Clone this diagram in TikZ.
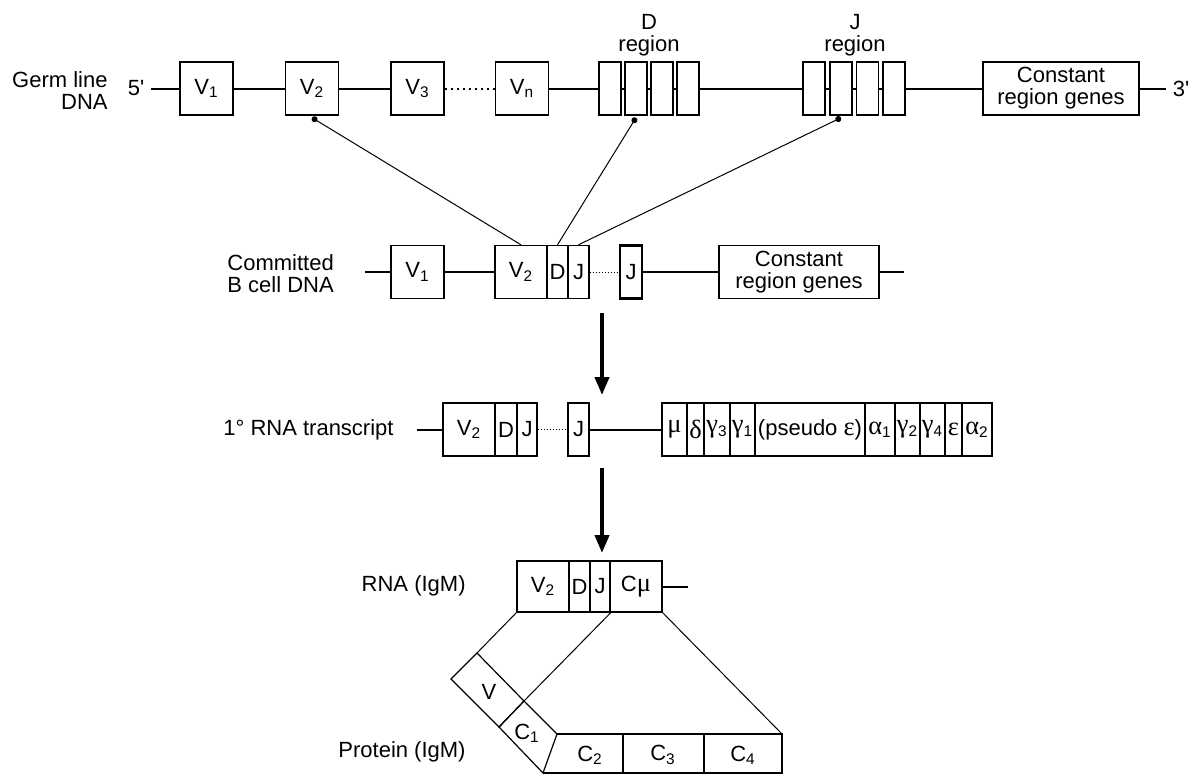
\documentclass[tikz,border=0pt]{standalone}
\usepackage{fontspec}
\setmainfont{Liberation Sans}
\newfontfamily\grkfont[Scale=1.2]{Liberation Serif}
\newcommand{\grk}[1]{{\grkfont #1}}
\usetikzlibrary{arrows.meta}

\begin{document}
\begin{tikzpicture}[x=0.5pt, y=-0.5pt,
	every node/.style={font=\fontsize{11}{11}\selectfont},
	gene/.style={draw, line width=0.7pt, inner sep=0pt, minimum height=26.5pt},
	bold gene/.style={gene, line width=1.3pt},
	backbone/.style={line width=1pt},
	link/.style={line width=0.5pt},
	step arrow/.style={-{Triangle[length=9pt, width=7pt]}, line width=2pt}]
		\useasboundingbox (0,0) rectangle (1200,783);

		% germ line DNA
		\node[anchor=east, align=right, inner sep=0pt] (glabel) at (108,91) {Germ line\\DNA};
		\node (five) at (136,88.5) {5\textquotesingle};
		\node[gene, minimum width=26.5pt] (gV1) at (206.5,88.5) {V\textsubscript{1}};
		\node[gene, minimum width=26.5pt] (gV2) at (312,88.5) {V\textsubscript{2}};
		\node[gene, minimum width=26.5pt] (gV3) at (417.5,88.5) {V\textsubscript{3}};
		\node[gene, minimum width=26.5pt] (gVn) at (522,88.5) {V\textsubscript{n}};
		\node[gene, minimum width=11pt] (gD1) at (610,88.5) {};
		\node[gene, minimum width=11pt] (gD2) at (636,88.5) {};
		\node[gene, minimum width=11pt] (gD3) at (662,88.5) {};
		\node[gene, minimum width=11pt] (gD4) at (688,88.5) {};
		\node[align=center] (dlabel) at (649,35) {D\\region};
		\node[gene, minimum width=11pt] (gJ1) at (814,88.5) {};
		\node[gene, minimum width=11pt] (gJ2) at (841,88.5) {};
		\node[gene, minimum width=11pt] (gJ3) at (867.5,88.5) {};
		\node[gene, minimum width=11pt] (gJ4) at (894,88.5) {};
		\node[align=center] (jlabel) at (855,35) {J\\region};
		\node[gene, minimum width=78pt, align=center] (gC) at (1061,88.5) {Constant\\region genes};
		\node (three) at (1181,88.5) {3\textquotesingle};
		\draw[backbone] (five) -- (gV1) -- (gV2) -- (gV3);
		\draw[backbone, dotted] (gV3) -- (gVn);
		\draw[backbone] (gVn) -- (gD1) -- (gD2) -- (gD3) -- (gD4) -- (gJ1) -- (gJ2) -- (gJ3) -- (gJ4) -- (gC) -- (three);

		% committed B cell DNA
		\node[anchor=west, align=left, inner sep=0pt] (clabel) at (227,274) {Committed\\B cell DNA};
		\coordinate (cstart) at (365,272);
		\node[gene, minimum width=26.5pt] (cV1) at (417.5,272) {V\textsubscript{1}};
		\node[gene, minimum width=26pt] (cV2) at (521,272) {V\textsubscript{2}};
		\node[gene, minimum width=10.5pt] (cD) at (557.5,272) {D};
		\node[gene, minimum width=10.5pt] (cJ) at (578.5,272) {J};
		\node[bold gene, minimum width=11pt] (cJb) at (631,272) {J};
		\node[gene, minimum width=80pt, align=center] (cC) at (799,272) {Constant\\region genes};
		\coordinate (cend) at (904,272);
		\draw[backbone] (cstart) -- (cV1) -- (cV2);
		\draw[link, densely dotted] (cJ) -- (cJb);
		\draw[backbone] (cJb) -- (cC) -- (cend);

		\draw[link, {Circle[length=3pt]}-] ([yshift=-1pt]gV2.south) -- (cV2.north);
		\draw[link, {Circle[length=3pt]}-] ([yshift=-1pt]gD2.south) -- (cD.north);
		\draw[link, {Circle[length=3pt]}-] ([yshift=-1pt]gJ2.south) -- (cJ.north);

		\coordinate (a1s) at (602,313);
		\coordinate (a1e) at (602,395);
		\draw[step arrow] (a1s) -- (a1e);

		% primary transcript
		\node[anchor=west, inner sep=0pt] (tlabel) at (223,430) {1° RNA transcript};
		\coordinate (tstart) at (417,429.5);
		\node[gene, minimum width=26pt] (tV2) at (469,429.5) {V\textsubscript{2}};
		\node[gene, minimum width=11pt] (tD) at (506,429.5) {D};
		\node[gene, minimum width=10pt] (tJ) at (527,429.5) {J};
		\node[bold gene, minimum width=10.5pt] (tJb) at (578.5,429.5) {J};
		\node[gene, minimum width=12.5pt] (tmu) at (674.5,429.5) {\grk{μ}};
		\node[gene, minimum width=8.5pt] (tdelta) at (695.5,429.5) {\grk{δ}};
		\node[gene, minimum width=13pt] (tgthree) at (717,429.5) {\grk{γ}\textsubscript{3}};
		\node[gene, minimum width=12.5pt] (tgone) at (742.5,429.5) {\grk{γ}\textsubscript{1}};
		\node[gene, minimum width=55pt] (tpseudo) at (810,429.5) {(pseudo \grk{ε})};
		\node[gene, minimum width=15pt] (taone) at (880,429.5) {\grk{α}\textsubscript{1}};
		\node[gene, minimum width=12.5pt] (tgtwo) at (907.5,429.5) {\grk{γ}\textsubscript{2}};
		\node[gene, minimum width=12.5pt] (tgfour) at (932.5,429.5) {\grk{γ}\textsubscript{4}};
		\node[gene, minimum width=8.5pt] (teps) at (953.5,429.5) {\grk{ε}};
		\node[gene, minimum width=15pt] (tatwo) at (977,429.5) {\grk{α}\textsubscript{2}};
		\draw[backbone] (tstart) -- (tV2);
		\draw[link, densely dotted] (tJ) -- (tJb);
		\draw[backbone] (tJb) -- (tmu);

		\coordinate (a2s) at (602,468);
		\coordinate (a2e) at (602,553);
		\draw[step arrow] (a2s) -- (a2e);

		% IgM RNA
		\node[anchor=east, inner sep=0pt] (rlabel) at (466,586) {RNA (IgM)};
		\node[gene, minimum width=26pt, minimum height=25.5pt] (rV2) at (543,586.5) {V\textsubscript{2}};
		\node[gene, minimum width=10.5pt, minimum height=25.5pt] (rD) at (579.5,586.5) {D};
		\node[gene, minimum width=10pt, minimum height=25.5pt] (rJ) at (600,586.5) {J};
		\node[gene, minimum width=26pt, minimum height=25.5pt] (rC) at (636,586.5) {C\grk{μ}};
		\coordinate (rend) at (688,586.5);
		\draw[backbone] (rC) -- (rend);

		% IgM protein
		\node[anchor=east, inner sep=0pt] (plabel) at (466,752) {Protein (IgM)};
		\coordinate (pA) at (477,653);
		\coordinate (pB) at (451,679);
		\coordinate (pC) at (499,727);
		\coordinate (pD) at (524,701);
		\coordinate (pE) at (557,734);
		\coordinate (pF) at (543,773);
		\coordinate (pG) at (782,734);
		\coordinate (pH) at (782,773);
		\draw[line width=0.6pt] (pA) -- (pB) -- (pC) -- (pD) -- cycle;
		\draw[line width=0.6pt] (pC) -- (pD) -- (pE) -- (pF) -- cycle;
		\draw[line width=0.6pt] (pE) -- (pG) -- (pH) -- (pF);
		\draw[line width=0.6pt] (623,734) -- (623,773);
		\draw[line width=0.6pt] (704,734) -- (704,773);
		\node (pV) at (489,692) {V};
		\node (pCone) at (527,733) {C\textsubscript{1}};
		\node (pCtwo) at (590,755) {C\textsubscript{2}};
		\node (pCthree) at (663,755) {C\textsubscript{3}};
		\node (pCfour) at (743,755) {C\textsubscript{4}};
		\draw[link] (rV2.south west) -- (pA);
		\draw[link] (rJ.south east) -- (pD);
		\draw[link] (rC.south east) -- (pG);
	%	\draw[link] (rD.south) -- (pC);
	\end{tikzpicture}
\end{document}
